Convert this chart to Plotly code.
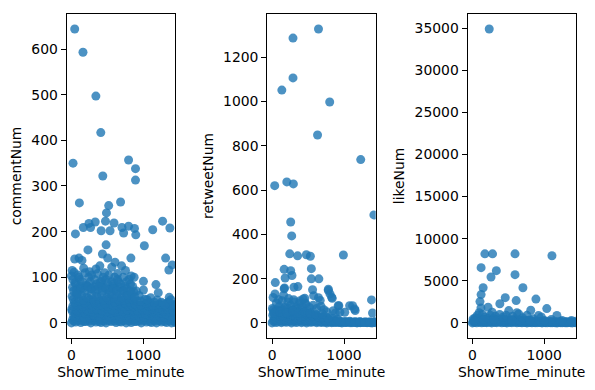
import plotly.graph_objects as go

# ---------------- data ----------------
comment_x = [
    0, 60, 130, 200, 270, 340, 410, 480, 550, 620, 690, 760, 830, 900, 970, 1040, 1110, 1180, 1250, 1320, 1390, 1440,
    35, 105, 175, 245, 315, 385, 455, 525, 595, 665, 735, 805, 875, 945, 1015, 1085, 1155, 1225, 1295, 1365, 1435,
    15, 85, 155, 225, 295, 365, 435, 505, 575, 645, 715, 785, 855, 925, 995, 1065, 1135, 1205, 1275, 1345, 1415,
    45, 115, 185, 255, 325, 395, 465, 535, 605, 675, 745, 815, 885, 955, 1025, 1095, 1165, 1235, 1305, 1375, 1440,
    30, 100, 170, 240, 310, 380, 450, 520, 590, 660, 730, 800, 870, 940, 1010, 1080, 1150, 1220, 1290, 1360, 1430,
    50, 120, 190, 260, 330, 400, 470, 540, 610, 680, 750, 820, 890, 960, 1030, 1100, 1170, 1240, 1310, 1380, 1440,
    10, 80, 150, 220, 290, 360, 430, 500, 570, 640, 710, 780, 850, 920, 990, 1060, 1130, 1200, 1270, 1340, 1410,
    5, 75, 145, 215, 285, 355, 425, 495, 565, 635, 705, 775, 845, 915, 985, 1055, 1125, 1195, 1265, 1335, 1405,
    20, 90, 160, 230, 300, 370, 440, 510, 580, 650, 720, 790, 860, 930, 1000, 1070, 1140, 1210, 1280, 1350, 1420,
    55, 125, 195, 265, 335, 405, 475, 545, 615, 685, 755, 825, 895, 965, 1035, 1105, 1175, 1245, 1315, 1385, 1440,
    40, 110, 180, 250, 320, 390, 460, 530, 600, 670, 740, 810, 880, 960, 1040, 1130, 1220, 1330, 1410,
    25, 95, 165, 235, 305, 375, 445, 515, 585, 655, 725, 795, 865,
    10, 70, 140, 210, 280, 350, 420, 490, 560, 630, 700, 770, 840, 910,
    960, 1020, 1080, 1190, 1270, 1350, 1440,
    15, 65, 115, 165, 215, 265, 315, 365, 415, 465, 515, 565, 615, 665, 715, 765, 815, 865,
    50, 120, 200, 260, 350, 420, 500, 580, 650, 740, 820,
    20, 60, 100, 150, 190, 240, 280, 320, 360, 400, 440, 480, 520, 560, 600, 640, 680, 720, 760, 800, 850, 900, 940,
    30, 80, 130, 180, 230, 280, 330, 380, 430, 480, 530, 580, 630, 680, 730, 780, 830, 880,
    10, 90, 170, 250, 340, 460, 560, 640, 750, 870,
    1100, 1250, 1300, 1420, 1150,
    45, 160, 339, 407, 22, 793, 889, 435, 889, 110, 682, 517, 486, 55, 165, 243, 330, 265, 412, 472,
    591, 536, 701, 724, 793, 875, 893, 1128, 1265, 1366, 229, 481, 1012, 45, 105, 146, 430, 503, 605, 825,
    1307, 1352, 1398, 0, 36, 394, 696, 829, 999, 999, 1173, 1205, 1357, 1380, 1050,
]
comment_y = [
    0, 2, 1, 3, 0, 2, 1, 0, 3, 1, 2, 0, 1, 3, 0, 2, 1, 0, 2, 1, 0, 1,
    4, 5, 3, 4, 5, 3, 4, 5, 4, 3, 5, 4, 3, 4, 5, 3, 4, 5, 3, 4, 4,
    7, 8, 6, 9, 7, 8, 6, 7, 9, 8, 6, 7, 8, 6, 7, 9, 8, 6, 7, 8, 7,
    11, 12, 10, 11, 12, 10, 11, 12, 11, 10, 12, 11, 10, 11, 12, 10, 11, 12, 10, 11, 11,
    15, 18, 14, 16, 17, 15, 18, 14, 16, 15, 17, 14, 16, 15, 13, 16, 14, 15, 13, 16, 14,
    22, 23, 21, 24, 22, 21, 23, 22, 24, 21, 22, 23, 21, 22, 20, 23, 21, 22, 20, 23, 22,
    26, 25, 27, 26, 25, 27, 26, 25, 27, 26, 25, 27, 26, 25, 27, 26, 25, 27, 26, 25, 26,
    30, 28, 32, 29, 31, 30, 28, 32, 29, 31, 30, 28, 29, 27, 30, 28, 31, 27, 29, 30, 28,
    37, 38, 36, 39, 37, 38, 36, 37, 39, 38, 36, 37, 35, 36, 34, 37, 35, 33, 36, 34, 35,
    41, 42, 40, 41, 42, 40, 41, 42, 40, 41, 42, 40, 39, 38, 40, 37, 39, 38, 36, 39, 37,
    45, 48, 44, 50, 46, 47, 43, 49, 45, 48, 44, 46, 42, 40, 43, 38, 41, 44, 39,
    52, 55, 50, 54, 51, 53, 50, 52, 55, 51, 50, 53, 49,
    58, 62, 60, 57, 63, 59, 61, 56, 62, 58, 55, 60, 52, 48,
    48, 52, 45, 50, 42, 46, 40,
    78, 72, 80, 76, 82, 74, 79, 73, 81, 77, 72, 80, 75, 78, 71, 76, 70, 68,
    88, 95, 82, 90, 85, 92, 88, 85, 90, 80, 85,
    95, 85, 100, 90, 110, 100, 105, 95, 108, 90, 100, 95, 105, 90, 100, 95, 85, 100, 90, 95, 80, 70, 60,
    70, 65, 75, 70, 80, 75, 70, 80, 70, 75, 65, 75, 70, 65, 70, 60, 65, 55,
    115, 105, 120, 112, 118, 110, 122, 108, 115, 100,
    55, 45, 40, 40, 45,
    644, 593, 497, 417, 350, 357, 338, 322, 313, 263, 265, 257, 241, 195, 209, 218, 221, 209, 202, 223,
    219, 202, 209, 197, 212, 207, 193, 204, 223, 208, 160, 171, 169, 140, 142, 137, 151, 142, 133, 142,
    142, 116, 127, 103, 111, 125, 125, 103, 91, 72, 84, 66, 56, 51, 51,
]

retweet_x = [
    0, 60, 130, 200, 270, 340, 410, 480, 550, 620, 690, 760, 830, 900, 970, 1040, 1110, 1180, 1250, 1320, 1390, 1440,
    35, 105, 175, 245, 315, 385, 455, 525, 595, 665, 735, 805, 875, 945, 1015, 1085, 1155, 1225, 1295, 1365, 1435,
    15, 85, 155, 225, 295, 365, 435, 505, 575, 645, 715, 785, 855, 925, 995, 1065, 1135, 1205, 1275, 1345, 1415,
    50, 120, 190, 260, 330, 400, 470, 540, 610, 680, 750, 820, 890, 960, 1030, 1100, 1170, 1240, 1310, 1380,
    30, 100, 170, 240, 310, 380, 450, 520, 590, 660, 730, 800, 870, 940, 1010, 1080, 1150, 1220, 1290, 1360, 1430,
    45, 115, 185, 255, 325, 395, 465, 535, 605, 675,
    560, 630, 700, 770, 840, 910,
    10, 80, 150, 220, 290, 360, 430, 500, 570, 640, 710, 780,
    20, 95, 170, 245, 320, 395, 470, 545, 620,
    50, 130, 210, 280, 350, 420, 490,
    5, 75, 145, 215, 285, 355, 425, 495,
    20, 60, 100, 140, 180, 220, 260, 300, 340, 380, 420, 470, 520, 570, 620, 680, 720, 760, 850, 880,
    30, 110, 200, 290, 370, 450, 530, 600, 700,
    15, 90, 160, 230, 310, 390, 460,
    645, 291, 291, 136, 801, 632, 1232, 37, 205, 296, 1415, 259, 273, 246, 355, 477, 532, 991, 45, 168,
    182, 259, 277, 546, 546, 650, 359, 563, 41, 173, 782, 805, 836, 455, 645, 928, 1119, 1155, 1382, 1396,
    1010, 168, 304, 432, 578, 669, 782, 828, 919, 1078, 1146, 942,
]
retweet_y = [
    0, 2, 1, 3, 0, 2, 1, 0, 3, 1, 2, 0, 1, 3, 0, 2, 1, 0, 2, 1, 0, 1,
    5, 6, 5, 6, 5, 6, 5, 4, 5, 4, 3, 3, 2, 2, 2, 1, 2, 1, 2, 1, 2,
    9, 10, 8, 11, 9, 10, 8, 9, 8, 7, 6, 5, 4, 3, 3, 4, 3, 2, 3, 2, 3,
    14, 15, 13, 16, 14, 15, 13, 12, 11, 10, 9, 8, 7, 6, 5, 4, 4, 3, 4, 3,
    18, 20, 17, 21, 19, 18, 20, 16, 18, 15, 14, 12, 10, 8, 6, 7, 5, 6, 4, 5, 6,
    28, 30, 27, 31, 29, 28, 30, 26, 24, 22,
    32, 28, 26, 24, 20, 16,
    35, 38, 33, 40, 36, 37, 32, 34, 30, 28, 25, 22,
    45, 48, 44, 50, 46, 42, 40, 38, 35,
    55, 60, 50, 58, 52, 48, 45,
    65, 58, 62, 68, 60, 64, 55, 52,
    60, 90, 75, 100, 70, 95, 80, 105, 70, 90, 75, 85, 70, 80, 65, 75, 60, 50, 55, 45,
    45, 50, 45, 55, 45, 50, 45, 40, 40,
    115, 105, 125, 110, 95, 100, 90,
    1328, 1287, 1107, 1052, 998, 849, 738, 620, 637, 628, 488, 456, 393, 312, 303, 308, 301, 307, 182, 242,
    203, 236, 214, 245, 199, 199, 164, 150, 131, 158, 152, 131, 111, 111, 114, 78, 78, 56, 104, 45,
    48, 154, 161, 108, 123, 101, 146, 116, 78, 78, 63, 48,
]

like_x = [
    0, 60, 130, 200, 270, 340, 410, 480, 550, 620, 690, 760, 830, 900, 970, 1040, 1110, 1180, 1250, 1320, 1390, 1440,
    35, 105, 175, 245, 315, 385, 455, 525, 595, 665, 735, 805, 875, 945, 1015, 1085, 1155, 1225, 1295, 1365, 1435,
    15, 85, 155, 225, 295, 365, 435, 505, 575, 645, 715, 785, 855, 925, 995, 1065, 1135, 1205, 1275, 1345, 1415,
    30, 100, 170, 240, 310, 380, 450, 520, 590, 660, 730, 800, 870, 940, 1010, 1080, 1150, 1220, 1290, 1360, 1430,
    45, 115, 185, 255, 325, 395, 465, 535, 605, 675, 745, 815, 885, 955, 1025, 1095, 1165, 1235, 1305, 1375, 1440,
    10, 80, 150, 220, 290, 360, 430, 500, 570, 640, 710, 780,
    40, 70, 95, 140, 180, 250, 320, 380, 430, 470, 560, 620, 700, 760, 850, 960, 1100, 1250, 1380,
    20, 160, 300, 550, 800, 1000,
    235, 175, 281, 594, 1108, 122, 334, 260, 594, 150, 704, 122, 458, 885, 106, 610, 1036, 383, 120, 219,
    813, 1177, 507, 645, 921, 276,
]
like_y = [
    0, 20, 10, 30, 0, 25, 10, 0, 30, 10, 20, 0, 10, 30, 0, 20, 10, 0, 20, 10, 0, 10,
    60, 80, 50, 70, 60, 90, 50, 60, 70, 50, 40, 40, 30, 40, 30, 30, 20, 30, 20, 30, 40,
    100, 120, 90, 110, 100, 130, 90, 100, 120, 90, 80, 70, 60, 70, 50, 60, 50, 60, 40, 50, 60,
    200, 250, 180, 230, 210, 190, 240, 170, 200, 160, 150, 130, 120, 110, 100, 120, 90, 110, 80, 100, 120,
    320, 350, 300, 340, 330, 310, 350, 300, 320, 280, 260, 240, 220, 200, 190, 200, 180, 200, 170, 180, 200,
    450, 500, 420, 520, 480, 470, 430, 450, 400, 380, 350, 300,
    600, 900, 1200, 1000, 700, 900, 800, 1000, 700, 900, 800, 1200, 600, 900, 500, 700, 400, 300, 300,
    300, 400, 400, 350, 350, 300,
    34900, 8200, 8200, 8200, 7970, 6560, 6200, 5450, 5730, 4180, 4180, 3360, 3000, 2830, 2530, 2650, 1700, 2280, 1780, 1860,
    1500, 880, 1460, 1070, 870, 1260,
]

panel_titles = ["commentNum", "retweetNum", "likeNum"]
x_title = "ShowTime_minute"
y_ticks = [[0, 100, 200, 300, 400, 500, 600],
           [0, 200, 400, 600, 800, 1000, 1200],
           [0, 5000, 10000, 15000, 20000, 25000, 30000, 35000]]
x_ticks = [0, 1000]

assert len(comment_x) == len(comment_y)
assert len(retweet_x) == len(retweet_y)
assert len(like_x) == len(like_y)

# ---------------- styling / layout ----------------
FONT = "DejaVu Sans"
COLOR = "rgba(31,119,180,0.8)"
W, H = 595, 390

x_domains = [[66.7 / W, 175.2 / W], [267.3 / W, 375.7 / W], [467.6 / W, 575.8 / W]]
y_domain = [1 - 337.6 / H, 1 - 14.3 / H]
y_ranges = [[-32.2, 676.2], [-66.4, 1394.4], [-1745, 36645]]
x_range = [-66, 1440]

fig = go.Figure()
series = [(comment_x, comment_y), (retweet_x, retweet_y), (like_x, like_y)]
for i, (xs, ys) in enumerate(series):
    sfx = "" if i == 0 else str(i + 1)
    fig.add_trace(go.Scatter(
        x=xs, y=ys, mode="markers",
        marker=dict(size=9, color=COLOR, line=dict(width=0)),
        xaxis="x" + sfx, yaxis="y" + sfx, showlegend=False,
        hoverinfo="x+y",
    ))

axis_common = dict(
    showline=True, linecolor="black", linewidth=1.1, mirror=True,
    ticks="outside", ticklen=5, tickwidth=1.1, tickcolor="black",
    showgrid=False, zeroline=False, automargin=False,
    tickfont=dict(family=FONT, size=13.9, color="black"),
    title_font=dict(family=FONT, size=13.9, color="black"),
)

layout = dict(
    width=W, height=H,
    margin=dict(l=0, r=0, t=0, b=0),
    paper_bgcolor="white", plot_bgcolor="white",
    font=dict(family=FONT, size=13.9, color="black"),
)
for i in range(3):
    sfx = "" if i == 0 else str(i + 1)
    layout["xaxis" + sfx] = dict(
        axis_common, domain=x_domains[i], range=x_range,
        tickmode="array", tickvals=x_ticks, ticktext=[str(v) for v in x_ticks],
        anchor="y" + sfx,
        title=dict(text=x_title, standoff=4),
    )
    layout["yaxis" + sfx] = dict(
        axis_common, domain=y_domain, range=y_ranges[i],
        tickmode="array", tickvals=y_ticks[i], ticktext=[str(v) for v in y_ticks[i]],
        anchor="x" + sfx,
        title=dict(text=panel_titles[i], standoff=6),
    )

fig.update_layout(**layout)
# remove the browser's default 8px body margin so the figure sits at (0,0)
fig.write_html("out.html", config={"displayModeBar": False},
               post_script="document.body.style.margin='0px';")
